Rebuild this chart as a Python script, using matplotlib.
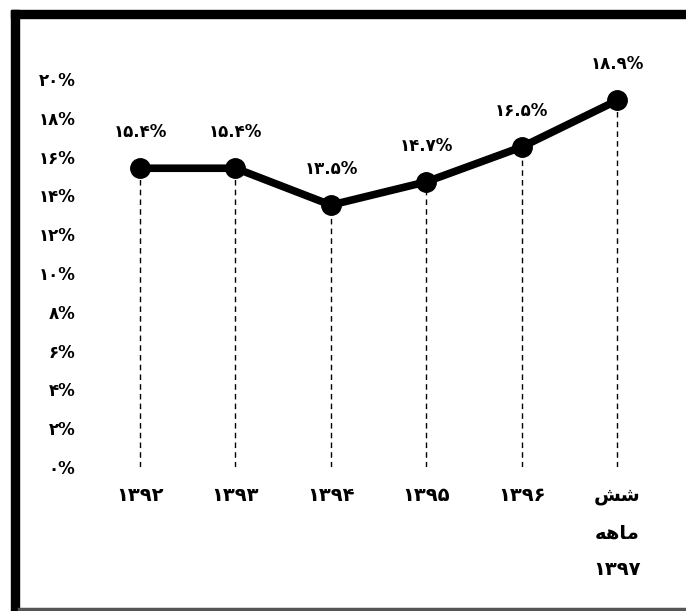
import matplotlib.pyplot as plt
from matplotlib.lines import Line2D
from matplotlib.patches import Rectangle

# Persian labels written in visual (left-to-right) order with presentation forms
years = ['۱۳۹۲', '۱۳۹۳', '۱۳۹۴', '۱۳۹۵', '۱۳۹۶',
         '\uFEB6\uFEB7\n\uFEEA\uFEEB\uFE8E\uFEE3\n۱۳۹۷']
values = [15.4, 15.4, 13.5, 14.7, 16.5, 18.9]
value_labels = ['۱۵.۴%', '۱۵.۴%', '۱۳.۵%', '۱۴.۷%', '۱۶.۵%', '۱۸.۹%']
y_ticks = [0, 2, 4, 6, 8, 10, 12, 14, 16, 18, 20]
y_tick_labels = ['۰%', '۲%', '۴%', '۶%', '۸%', '۱۰%', '۱۲%', '۱۴%',
                 '۱۶%', '۱۸%', '۲۰%']

plt.rcParams['font.family'] = ['DejaVu Sans']

fig = plt.figure(figsize=(6.86, 6.11), dpi=100)
ax = fig.add_axes([0.1345, 0.2357, 0.835, 0.635])

x = list(range(len(years)))
ax.vlines(x, 0, values, colors='black', linestyles=(0, (4, 3)), linewidth=1.0)
ax.plot(x, values, color='black', linewidth=5.5, marker='o', markersize=14,
        solid_joinstyle='round', clip_on=False, zorder=3)

for xi, v, lab in zip(x, values, value_labels):
    ax.annotate(lab, (xi, v), xytext=(0, 26), textcoords='offset points',
                ha='center', va='center', fontsize=12, fontweight='bold')

ax.set_xlim(-0.5, 5.5)
ax.set_ylim(0, 20)
ax.set_yticks(y_ticks)
ax.set_yticklabels(y_tick_labels, fontsize=12, fontweight='bold')
ax.set_xticks(x)
ax.set_xticklabels(years, fontsize=14, fontweight='bold', linespacing=2.2,
                   va='top')
ax.tick_params(axis='both', length=0)
ax.tick_params(axis='y', pad=12)
ax.tick_params(axis='x', pad=14)
for s in ax.spines.values():
    s.set_visible(False)

# frame around the picture
fig.add_artist(Rectangle((11 / 686, 0), 8 / 686, 1 - 10 / 611,
                         transform=fig.transFigure, color='black'))
fig.add_artist(Rectangle((11 / 686, 1 - 18 / 611), 1, 8 / 611,
                         transform=fig.transFigure, color='black'))
fig.add_artist(Line2D([19 / 686, 1], [2.5 / 611, 2.5 / 611],
                      transform=fig.transFigure, color='#555555', linewidth=2.5))

fig.savefig('out.png', dpi=100)
